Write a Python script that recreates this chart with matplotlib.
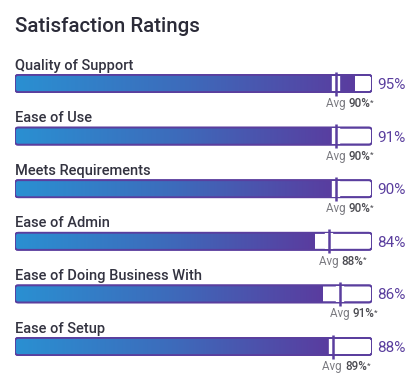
import matplotlib.pyplot as plt
import numpy as np
from matplotlib.colors import LinearSegmentedColormap
from matplotlib.patches import FancyBboxPatch

categories = ["Quality of Support", "Ease of Use", "Meets Requirements",
              "Ease of Admin", "Ease of Doing Business With", "Ease of Setup"]
scores = [95, 91, 90, 84, 86, 88]
averages = [90, 90, 90, 88, 91, 89]

W, H = 409, 374
purple = "#5a3e9e"
grad = LinearSegmentedColormap.from_list("g", ["#2a90d2", "#3d6bbb", "#5a3c9f"])

plt.rcParams['font.family'] = ['Roboto', 'DejaVu Sans']

fig = plt.figure(figsize=(W / 100, H / 100), dpi=100)
ax = fig.add_axes([15 / W, 0, 357 / W, 1])
row_px = 52.6
top = -83.5 / row_px
bottom = (H - 83.5) / row_px
ax.set_xlim(0, 100)
ax.set_ylim(bottom, top)
ax.axis('off')

ux = 357 / 100          # px per x unit
uy = row_px             # px per y unit
bh = 17 / uy            # bar height
r = 3.0                 # corner radius px
style = f"round,pad=0,rounding_size={r / ux}"

fig.text(15 / W, 1 - 32 / H, "Satisfaction Ratings", fontsize=14.8,
         color="#2b2b38", fontweight='medium', va='baseline')

for i, (cat, s, a) in enumerate(zip(categories, scores, averages)):
    y0 = i - bh / 2
    # outline box (full 100%)
    ax.add_patch(FancyBboxPatch((0, y0), 100, bh, boxstyle=style,
                                mutation_aspect=ux / uy,
                                facecolor="white", edgecolor=purple, lw=1.3, zorder=2))
    # gradient fill
    img = ax.imshow(np.linspace(0, 1, 256).reshape(1, -1), cmap=grad,
                    extent=[0, s, y0 + bh, y0], aspect='auto', zorder=3,
                    interpolation='bilinear')
    clip = FancyBboxPatch((0, y0), 100, bh, boxstyle=style,
                          mutation_aspect=ux / uy, transform=ax.transData,
                          facecolor='none', edgecolor='none')
    ax.add_patch(clip)
    img.set_clip_path(clip)
    # outline on top
    ax.add_patch(FancyBboxPatch((0, y0), 100, bh, boxstyle=style,
                                mutation_aspect=ux / uy,
                                facecolor="none", edgecolor=purple, lw=1.3, zorder=4))
    # average marker
    ext = 3.5 / uy
    ax.plot([a, a], [y0 + 0.6 / uy, y0 + bh - 0.6 / uy], color="white", lw=6,
            zorder=5, solid_capstyle='butt')
    ax.plot([a, a], [y0 - ext, y0 + bh + ext], color=purple, lw=1.8,
            zorder=6, solid_capstyle='butt')

    ax.text(0, i - 14 / uy, cat, fontsize=10.5, color="#333340",
            fontweight='medium', va='baseline', ha='left')
    ax.text(101.4, i + 5.5 / uy, f"{s}%", fontsize=11, color=purple,
            va='baseline', ha='left', clip_on=False)

    t1 = ax.text(a - 2.9, i + 23.5 / uy, "Avg ", fontsize=8.4, color="#7a7a80",
                 va='baseline', ha='left')
    t2 = ax.annotate(f"{a}%", xy=(1, 0), xycoords=t1, fontsize=8.4,
                     color="#4a4a50", fontweight='medium', va='bottom', ha='left')
    ax.annotate("*", xy=(1, 0.35), xycoords=t2, fontsize=6, color="#4a4a50",
                va='bottom', ha='left')

fig.savefig("out.png", dpi=100)
